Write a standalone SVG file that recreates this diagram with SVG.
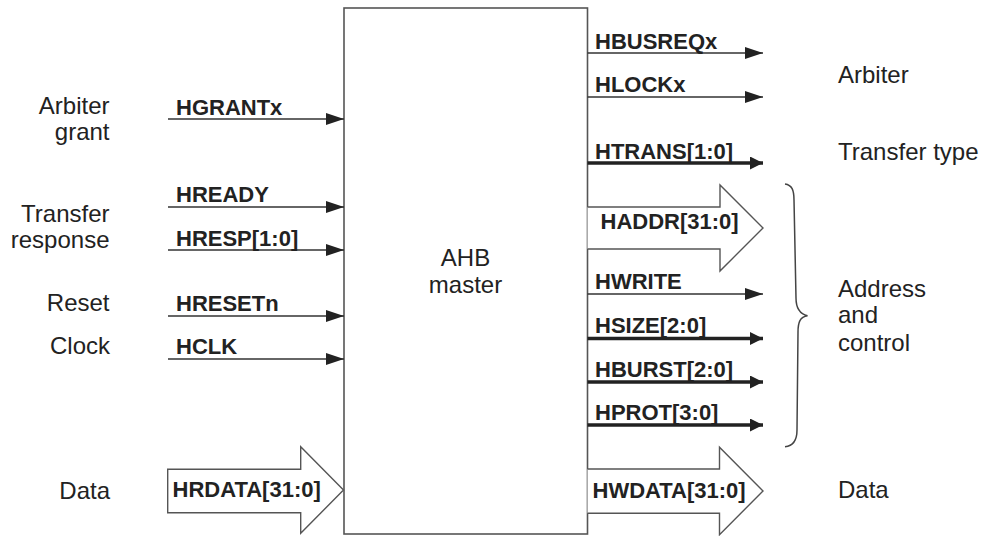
<svg xmlns="http://www.w3.org/2000/svg" width="984" height="536" viewBox="0 0 984 536">
  <defs>
    <style>
      .lbl { font-family: "Liberation Sans", Arial, sans-serif; font-size: 24px; fill: #222; }
      .r { text-anchor: end; }
      .sig { font-family: "Liberation Sans", Arial, sans-serif; font-size: 22px; font-weight: bold; fill: #222; }
      .thin { stroke: #333; stroke-width: 1.4; fill: none; }
      .thick { stroke: #222; stroke-width: 3.4; fill: none; }
      .bus { stroke: #555; stroke-width: 1.4; fill: #fff; stroke-linejoin: miter; }
      .box { stroke: #555; stroke-width: 1.6; fill: #fff; }
      .brace { stroke: #444; stroke-width: 1.5; fill: none; }
    </style>
    <marker id="ah" markerUnits="userSpaceOnUse" markerWidth="18" markerHeight="12" refX="18" refY="6" orient="auto">
      <path d="M0,0 L18,6 L0,12 Z" fill="#222"/>
    </marker>
    <marker id="ahk" markerUnits="userSpaceOnUse" markerWidth="13" markerHeight="13" refX="13" refY="6.5" orient="auto">
      <path d="M0,0 L13,6.5 L0,13 Z" fill="#222"/>
    </marker>
  </defs>

  <!-- master block -->
  <g id="ahb-master">
    <rect class="box" x="344" y="8" width="243.5" height="526"/>
    <text class="lbl" x="465.5" y="266" text-anchor="middle">AHB</text>
    <text class="lbl" x="465.5" y="293" text-anchor="middle">master</text>
  </g>

  <!-- wide data buses -->
  <g id="hrdata">
    <path class="bus" d="M343.5,490 L300.7,446.7 L300.7,469.3 L167.7,469.3 L167.7,512.7 L300.7,512.7 L300.7,533.3 Z"/>
    <text class="sig" x="172.5" y="497">HRDATA[31:0]</text>
  </g>
  <g id="haddr">
    <path class="bus" d="M587.5,207 L720,207 L720,185 L763,228 L720,271 L720,249 L587.5,249"/>
    <text class="sig" x="600.5" y="229">HADDR[31:0]</text>
  </g>
  <g id="hwdata">
    <path class="bus" d="M587.5,469 L719.5,469 L719.5,447.3 L763,491 L719.5,534.7 L719.5,513.3 L587.5,513.3"/>
    <text class="sig" x="592.5" y="498">HWDATA[31:0]</text>
  </g>

  <!-- signal connectors -->
  <g id="connectors">
    <line class="thin" x1="168" y1="119" x2="344" y2="119" marker-end="url(#ah)"/>
    <line class="thin" x1="168" y1="207" x2="344" y2="207" marker-end="url(#ah)"/>
    <line class="thin" x1="168" y1="250" x2="344" y2="250" marker-end="url(#ah)"/>
    <line class="thin" x1="168" y1="316" x2="344" y2="316" marker-end="url(#ah)"/>
    <line class="thin" x1="168" y1="359" x2="344" y2="359" marker-end="url(#ah)"/>

    <line class="thin" x1="587.5" y1="53" x2="763" y2="53" marker-end="url(#ah)"/>
    <line class="thin" x1="587.5" y1="97" x2="763" y2="97" marker-end="url(#ah)"/>
    <line class="thick" x1="587.5" y1="163" x2="763" y2="163" marker-end="url(#ahk)"/>
    <line class="thin" x1="587.5" y1="294" x2="763" y2="294" marker-end="url(#ah)"/>
    <line class="thick" x1="587.5" y1="338.5" x2="763" y2="338.5" marker-end="url(#ahk)"/>
    <line class="thick" x1="587.5" y1="382" x2="763" y2="382" marker-end="url(#ahk)"/>
    <line class="thick" x1="587.5" y1="425" x2="763" y2="425" marker-end="url(#ahk)"/>
  </g>

  <!-- signal names -->
  <g id="signal-names">
    <text class="sig" x="176" y="114.5">HGRANTx</text>
    <text class="sig" x="176" y="202">HREADY</text>
    <text class="sig" x="176" y="246">HRESP[1:0]</text>
    <text class="sig" x="176" y="311">HRESETn</text>
    <text class="sig" x="176" y="354">HCLK</text>

    <text class="sig" x="595" y="48.5">HBUSREQx</text>
    <text class="sig" x="595" y="92">HLOCKx</text>
    <text class="sig" x="595" y="158.5">HTRANS[1:0]</text>
    <text class="sig" x="595" y="288.5">HWRITE</text>
    <text class="sig" x="595" y="333">HSIZE[2:0]</text>
    <text class="sig" x="595" y="376.5">HBURST[2:0]</text>
    <text class="sig" x="595" y="420">HPROT[3:0]</text>
  </g>

  <!-- group brace for address and control -->
  <g id="brace">
    <path class="brace" d="M785,184 C792,185 794,190 794,200 L796,298 C796,308 800,314 807.5,315.7 C800,317 798,322 798,332 L797,430 C797,440 793,446 785,446.7"/>
  </g>

  <!-- left-side descriptions -->
  <g id="left-labels">
    <text class="lbl r" x="109.5" y="114">Arbiter</text>
    <text class="lbl r" x="109.5" y="140">grant</text>
    <text class="lbl r" x="109.5" y="222">Transfer</text>
    <text class="lbl r" x="109.5" y="248">response</text>
    <text class="lbl r" x="109.5" y="311">Reset</text>
    <text class="lbl r" x="110" y="354">Clock</text>
    <text class="lbl r" x="110" y="499">Data</text>
  </g>

  <!-- right-side descriptions -->
  <g id="right-labels">
    <text class="lbl" x="838" y="83">Arbiter</text>
    <text class="lbl" x="838" y="160">Transfer type</text>
    <text class="lbl" x="838" y="297">Address</text>
    <text class="lbl" x="838" y="323">and</text>
    <text class="lbl" x="838" y="351">control</text>
    <text class="lbl" x="838" y="498">Data</text>
  </g>
</svg>
